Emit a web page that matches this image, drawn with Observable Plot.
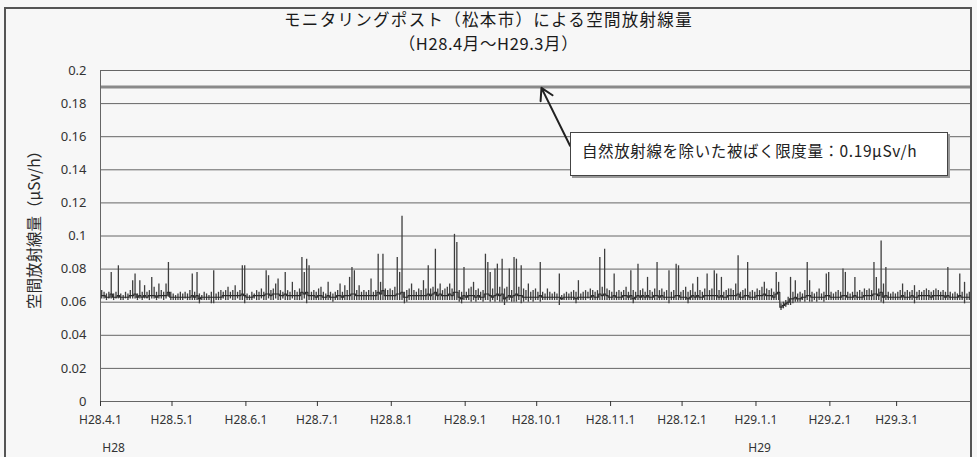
<!DOCTYPE html>
<html>
<head>
<meta charset="utf-8">
<script src="https://cdn.jsdelivr.net/npm/d3@7"></script>
<script src="https://cdn.jsdelivr.net/npm/@observablehq/plot@0.6"></script>
<style>
  html, body { margin: 0; padding: 0; background: #ffffff; }
  #wrap { position: relative; width: 977px; height: 457px; overflow: hidden; background: #f7f7f7;
          font-family: "Noto Sans CJK JP", "Noto Sans", sans-serif; color: #222; }
  #frame { position: absolute; left: 4px; top: 7px; width: 968px; height: 470px;
           border: 2px solid #555; box-sizing: border-box; pointer-events: none; }
  .title { position: absolute; left: 0; width: 977px; height: 24px; text-align: center;
           font-size: 16.5px; line-height: 24px; color: #1a1a1a; white-space: nowrap; }
  #title1 { top: 6.5px; letter-spacing: 1.3px; }
  #title2 { top: 30.5px; letter-spacing: 0.6px; }
  #ylabel { position: absolute; left: 33px; top: 226px; transform: translate(-50%, -50%) rotate(-90deg);
            white-space: nowrap; font-size: 15.5px; color: #2a2a2a; }
  #note { position: absolute; left: 570px; top: 132px; width: 378px; height: 44px; box-sizing: border-box;
          background: #ffffff; border: 1px solid #444; box-shadow: 2px 2px 0 #9a9a9a;
          font-size: 15.5px; line-height: 22px; padding: 6px 0 0 11px; color: #222; white-space: nowrap;
          letter-spacing: 0.6px; }
  #chart { position: absolute; left: 0; top: 0; }
</style>
</head>
<body>
<div id="wrap">
  <div id="chart"></div>
  <div class="title" id="title1">モニタリングポスト（松本市）による空間放射線量</div>
  <div class="title" id="title2">（H28.4月～H29.3月）</div>
  <div id="ylabel">空間放射線量（μSv/h）</div>
  <div id="note">自然放射線を除いた被ばく限度量：0.19μSv/h</div>
  <div id="frame"></div>
</div>
<script>
// ---- data (µSv/h), one row per month, H28.4 .. H29.3 ----
const monthStarts = ["2016-04-01","2016-05-01","2016-06-01","2016-07-01","2016-08-01","2016-09-01",
                     "2016-10-01","2016-11-01","2016-12-01","2017-01-01","2017-02-01","2017-03-01"];
const monthTickLabels = ["H28.4.1","H28.5.1","H28.6.1","H28.7.1","H28.8.1","H28.9.1",
                         "H28.10.1","H28.11.1","H28.12.1","H29.1.1","H29.2.1","H29.3.1"];
const yearLabels = [{date: "2016-04-06", label: "H28"}, {date: "2017-01-02", label: "H29"}];
const yTicks = [0, 0.02, 0.04, 0.06, 0.08, 0.1, 0.12, 0.14, 0.16, 0.18, 0.2];
const limitValue = 0.19;

const dailyMax = [
 [0.067,0.066,0.065,0.066,0.078,0.065,0.066,0.082,0.065,0.064,0.066,0.065,0.067,0.073,0.077,0.065,0.073,0.066,0.070,0.066,0.067,0.075,0.069,0.066,0.071,0.067,0.066,0.071,0.084,0.066],
 [0.065,0.064,0.065,0.066,0.065,0.066,0.065,0.067,0.077,0.066,0.078,0.065,0.064,0.066,0.065,0.064,0.066,0.079,0.065,0.066,0.067,0.066,0.067,0.069,0.066,0.067,0.070,0.066,0.067,0.082,0.082],
 [0.065,0.064,0.066,0.065,0.067,0.066,0.068,0.066,0.079,0.076,0.067,0.068,0.071,0.074,0.067,0.066,0.078,0.067,0.066,0.072,0.067,0.066,0.068,0.087,0.078,0.086,0.082,0.066,0.067,0.066],
 [0.068,0.069,0.066,0.065,0.072,0.066,0.065,0.066,0.067,0.071,0.066,0.070,0.067,0.075,0.081,0.079,0.067,0.070,0.066,0.067,0.066,0.067,0.074,0.066,0.067,0.089,0.072,0.089,0.068,0.067,0.068],
 [0.067,0.069,0.087,0.078,0.112,0.066,0.067,0.068,0.071,0.067,0.066,0.068,0.067,0.073,0.068,0.082,0.068,0.069,0.092,0.068,0.071,0.067,0.068,0.069,0.071,0.068,0.101,0.096,0.067,0.066,0.081],
 [0.066,0.068,0.069,0.072,0.067,0.068,0.066,0.067,0.089,0.084,0.078,0.068,0.080,0.083,0.069,0.086,0.068,0.069,0.080,0.067,0.087,0.086,0.069,0.082,0.068,0.067,0.071,0.066,0.067,0.068],
 [0.066,0.084,0.066,0.065,0.068,0.066,0.065,0.066,0.065,0.077,0.064,0.065,0.066,0.065,0.066,0.067,0.066,0.073,0.065,0.066,0.067,0.066,0.068,0.067,0.066,0.067,0.087,0.069,0.092,0.068,0.067],
 [0.066,0.077,0.066,0.067,0.066,0.067,0.069,0.066,0.079,0.067,0.066,0.083,0.067,0.068,0.066,0.075,0.067,0.066,0.068,0.084,0.067,0.068,0.066,0.067,0.079,0.066,0.067,0.083,0.082,0.066],
 [0.067,0.069,0.066,0.067,0.071,0.066,0.075,0.067,0.066,0.068,0.077,0.067,0.068,0.079,0.077,0.067,0.075,0.066,0.067,0.068,0.068,0.067,0.071,0.088,0.066,0.067,0.068,0.084,0.066,0.067,0.066],
 [0.068,0.067,0.069,0.072,0.068,0.067,0.068,0.066,0.078,0.072,0.059,0.060,0.061,0.063,0.075,0.066,0.073,0.065,0.066,0.065,0.067,0.084,0.073,0.066,0.065,0.066,0.068,0.065,0.066,0.077,0.078],
 [0.066,0.065,0.066,0.067,0.066,0.080,0.078,0.066,0.065,0.066,0.075,0.066,0.067,0.066,0.068,0.067,0.068,0.067,0.084,0.075,0.068,0.097,0.071,0.081,0.066,0.065,0.066,0.065],
 [0.066,0.067,0.071,0.066,0.067,0.066,0.067,0.070,0.066,0.067,0.066,0.067,0.068,0.067,0.066,0.067,0.068,0.067,0.066,0.067,0.066,0.081,0.066,0.065,0.066,0.065,0.077,0.066,0.072,0.065,0.066]
];
const dailyMin = [
 [0.062,0.062,0.061,0.062,0.062,0.061,0.062,0.062,0.061,0.061,0.062,0.061,0.062,0.062,0.062,0.061,0.062,0.061,0.062,0.062,0.061,0.062,0.062,0.061,0.062,0.062,0.061,0.062,0.063,0.061],
 [0.061,0.061,0.061,0.061,0.061,0.062,0.061,0.061,0.061,0.061,0.061,0.059,0.061,0.061,0.061,0.061,0.059,0.059,0.061,0.061,0.061,0.062,0.061,0.061,0.062,0.061,0.061,0.062,0.061,0.061,0.059],
 [0.061,0.061,0.061,0.062,0.061,0.061,0.062,0.061,0.061,0.062,0.061,0.061,0.062,0.061,0.061,0.062,0.061,0.061,0.061,0.062,0.061,0.061,0.061,0.061,0.062,0.059,0.061,0.061,0.061,0.061],
 [0.061,0.061,0.061,0.061,0.061,0.061,0.060,0.061,0.061,0.061,0.061,0.061,0.061,0.061,0.061,0.061,0.061,0.061,0.061,0.061,0.061,0.061,0.061,0.061,0.061,0.061,0.061,0.061,0.061,0.061,0.061],
 [0.061,0.061,0.061,0.061,0.061,0.059,0.060,0.061,0.061,0.061,0.061,0.061,0.061,0.061,0.061,0.061,0.061,0.061,0.061,0.061,0.061,0.061,0.061,0.061,0.061,0.061,0.061,0.061,0.060,0.059,0.061],
 [0.061,0.061,0.060,0.061,0.060,0.061,0.061,0.060,0.061,0.061,0.060,0.061,0.060,0.061,0.060,0.060,0.058,0.060,0.061,0.060,0.060,0.060,0.061,0.059,0.060,0.061,0.060,0.061,0.060,0.061],
 [0.061,0.060,0.061,0.061,0.061,0.061,0.061,0.061,0.061,0.058,0.061,0.061,0.061,0.061,0.061,0.061,0.059,0.061,0.061,0.061,0.061,0.062,0.061,0.061,0.061,0.061,0.061,0.061,0.061,0.061,0.061],
 [0.061,0.061,0.061,0.061,0.061,0.061,0.061,0.061,0.061,0.059,0.061,0.061,0.061,0.061,0.061,0.061,0.061,0.061,0.061,0.061,0.061,0.061,0.061,0.061,0.059,0.061,0.061,0.061,0.061,0.061],
 [0.061,0.061,0.059,0.061,0.061,0.061,0.061,0.061,0.061,0.061,0.061,0.061,0.061,0.061,0.061,0.061,0.061,0.061,0.061,0.061,0.061,0.061,0.061,0.061,0.061,0.061,0.061,0.061,0.061,0.061,0.061],
 [0.061,0.061,0.061,0.061,0.061,0.061,0.061,0.061,0.061,0.061,0.055,0.056,0.057,0.058,0.058,0.059,0.060,0.060,0.060,0.061,0.060,0.061,0.060,0.060,0.061,0.060,0.061,0.061,0.060,0.061,0.061],
 [0.061,0.061,0.061,0.061,0.061,0.061,0.061,0.061,0.061,0.061,0.061,0.061,0.061,0.061,0.061,0.061,0.061,0.061,0.061,0.061,0.061,0.060,0.059,0.061,0.061,0.061,0.061,0.061],
 [0.061,0.061,0.061,0.061,0.061,0.061,0.061,0.059,0.061,0.061,0.061,0.061,0.061,0.061,0.061,0.061,0.061,0.061,0.061,0.061,0.061,0.061,0.061,0.061,0.061,0.061,0.061,0.061,0.059,0.061,0.061]
];
const dailyMean = [
 [0.064,0.064,0.063,0.063,0.065,0.063,0.063,0.064,0.063,0.063,0.063,0.063,0.064,0.064,0.065,0.063,0.064,0.063,0.064,0.063,0.064,0.064,0.064,0.063,0.064,0.064,0.064,0.064,0.066,0.063],
 [0.063,0.063,0.063,0.063,0.063,0.063,0.063,0.063,0.064,0.063,0.064,0.062,0.063,0.063,0.063,0.063,0.063,0.063,0.063,0.063,0.063,0.064,0.064,0.064,0.064,0.064,0.064,0.064,0.064,0.065,0.064],
 [0.063,0.063,0.063,0.064,0.064,0.064,0.064,0.064,0.065,0.065,0.064,0.065,0.065,0.065,0.064,0.064,0.065,0.064,0.064,0.064,0.064,0.064,0.064,0.066,0.065,0.066,0.064,0.064,0.064,0.063],
 [0.064,0.064,0.063,0.063,0.064,0.063,0.063,0.063,0.064,0.064,0.063,0.064,0.064,0.064,0.065,0.065,0.064,0.064,0.064,0.064,0.064,0.064,0.064,0.064,0.064,0.066,0.065,0.067,0.064,0.064,0.064],
 [0.064,0.064,0.065,0.065,0.066,0.063,0.063,0.064,0.064,0.064,0.064,0.064,0.064,0.064,0.064,0.065,0.064,0.065,0.066,0.064,0.065,0.064,0.064,0.064,0.065,0.064,0.066,0.066,0.063,0.062,0.064],
 [0.063,0.064,0.064,0.064,0.063,0.064,0.063,0.063,0.065,0.065,0.064,0.063,0.064,0.065,0.064,0.065,0.062,0.063,0.064,0.063,0.064,0.065,0.064,0.064,0.063,0.063,0.063,0.063,0.063,0.063],
 [0.063,0.064,0.063,0.063,0.063,0.063,0.063,0.063,0.063,0.063,0.062,0.063,0.063,0.063,0.063,0.063,0.062,0.063,0.063,0.063,0.063,0.063,0.063,0.064,0.063,0.063,0.065,0.064,0.065,0.064,0.063],
 [0.063,0.064,0.063,0.063,0.063,0.064,0.064,0.063,0.064,0.062,0.063,0.064,0.063,0.064,0.063,0.064,0.063,0.063,0.064,0.064,0.063,0.064,0.063,0.063,0.063,0.063,0.063,0.064,0.064,0.063],
 [0.063,0.063,0.062,0.063,0.064,0.063,0.064,0.063,0.063,0.064,0.064,0.064,0.064,0.064,0.064,0.063,0.064,0.063,0.063,0.064,0.064,0.064,0.064,0.065,0.063,0.063,0.064,0.064,0.063,0.063,0.063],
 [0.064,0.064,0.064,0.065,0.064,0.064,0.064,0.063,0.065,0.066,0.057,0.058,0.059,0.060,0.062,0.062,0.063,0.062,0.062,0.063,0.063,0.064,0.064,0.063,0.063,0.063,0.063,0.063,0.063,0.064,0.064],
 [0.063,0.063,0.063,0.063,0.063,0.064,0.064,0.063,0.063,0.063,0.064,0.063,0.063,0.063,0.064,0.064,0.064,0.064,0.065,0.065,0.064,0.066,0.063,0.064,0.063,0.063,0.063,0.063],
 [0.063,0.063,0.064,0.063,0.063,0.063,0.064,0.063,0.063,0.064,0.064,0.064,0.064,0.064,0.063,0.064,0.064,0.064,0.064,0.064,0.063,0.064,0.063,0.063,0.063,0.063,0.064,0.063,0.063,0.063,0.063]
];
// annotation arrow, from the note box to the 0.19 line
const arrowData = [{from: "2016-10-15", fromY: 0.1545, to: "2016-10-03", toY: 0.1895}];

// ---- build table ----
const parseDay = (s) => { const [y, m, d] = s.split("-").map(Number); return new Date(y, m - 1, d); };
const days = [];
monthStarts.forEach((ms, m) => {
  const start = parseDay(ms);
  dailyMax[m].forEach((mx, d) => {
    const date = new Date(start.getFullYear(), start.getMonth(), start.getDate() + d, 12);
    days.push({date, max: mx, min: dailyMin[m][d], mean: dailyMean[m][d]});
  });
});
const tickDates = monthStarts.map(parseDay);
const labelByTime = new Map(tickDates.map((d, i) => [+d, monthTickLabels[i]]));
const xDomain = [parseDay("2016-04-01"), parseDay("2017-04-01")];
const yearRows = yearLabels.map(r => ({date: new Date(+parseDay(r.date) + 12 * 3600e3), label: r.label}));
const arrows = arrowData.map(a => ({x1: parseDay(a.from), y1: a.fromY, x2: parseDay(a.to), y2: a.toY}));

const chart = Plot.plot({
  width: 977,
  height: 457,
  marginTop: 70,
  marginBottom: 56,
  marginLeft: 100,
  marginRight: 7,
  style: {background: "transparent", fontFamily: "'Noto Sans', 'Noto Sans CJK JP', sans-serif", color: "#333"},
  x: {type: "time", domain: xDomain},
  y: {domain: [0, 0.2]},
  marks: [
    Plot.ruleY(yTicks, {stroke: "#666", strokeWidth: 1}),
    Plot.ruleY([limitValue], {stroke: "#8a8a8a", strokeWidth: 3}),
    Plot.ruleX(days, {x: "date", y1: "min", y2: "max", stroke: "#3e3e3e", strokeWidth: 1.3}),
    Plot.line(days, {x: "date", y: "mean", stroke: "#2a2a2a", strokeWidth: 1.1, curve: "step"}),
    Plot.ruleX([xDomain[0]], {stroke: "#666", strokeWidth: 1}),
    Plot.axisY({ticks: yTicks, tickSize: 0, tickPadding: 14, fontSize: 13, label: null,
                tickFormat: d => String(+d.toFixed(2))}),
    Plot.axisX({ticks: tickDates, tickSize: 5, tickPadding: 9, fontSize: 12, label: null,
                tickFormat: d => labelByTime.get(+d) ?? ""}),
    Plot.axisX({ticks: [xDomain[1]], tickSize: 5, tickFormat: () => "", label: null}),
    Plot.text(yearRows, {x: "date", y: 0, text: "label", dy: 47, fontSize: 12, fill: "#333"}),
    Plot.arrow(arrows, {x1: "x1", y1: "y1", x2: "x2", y2: "y2", stroke: "#222", strokeWidth: 2, headLength: 10})
  ]
});
document.getElementById("chart").appendChild(chart);
</script>
</body>
</html>
